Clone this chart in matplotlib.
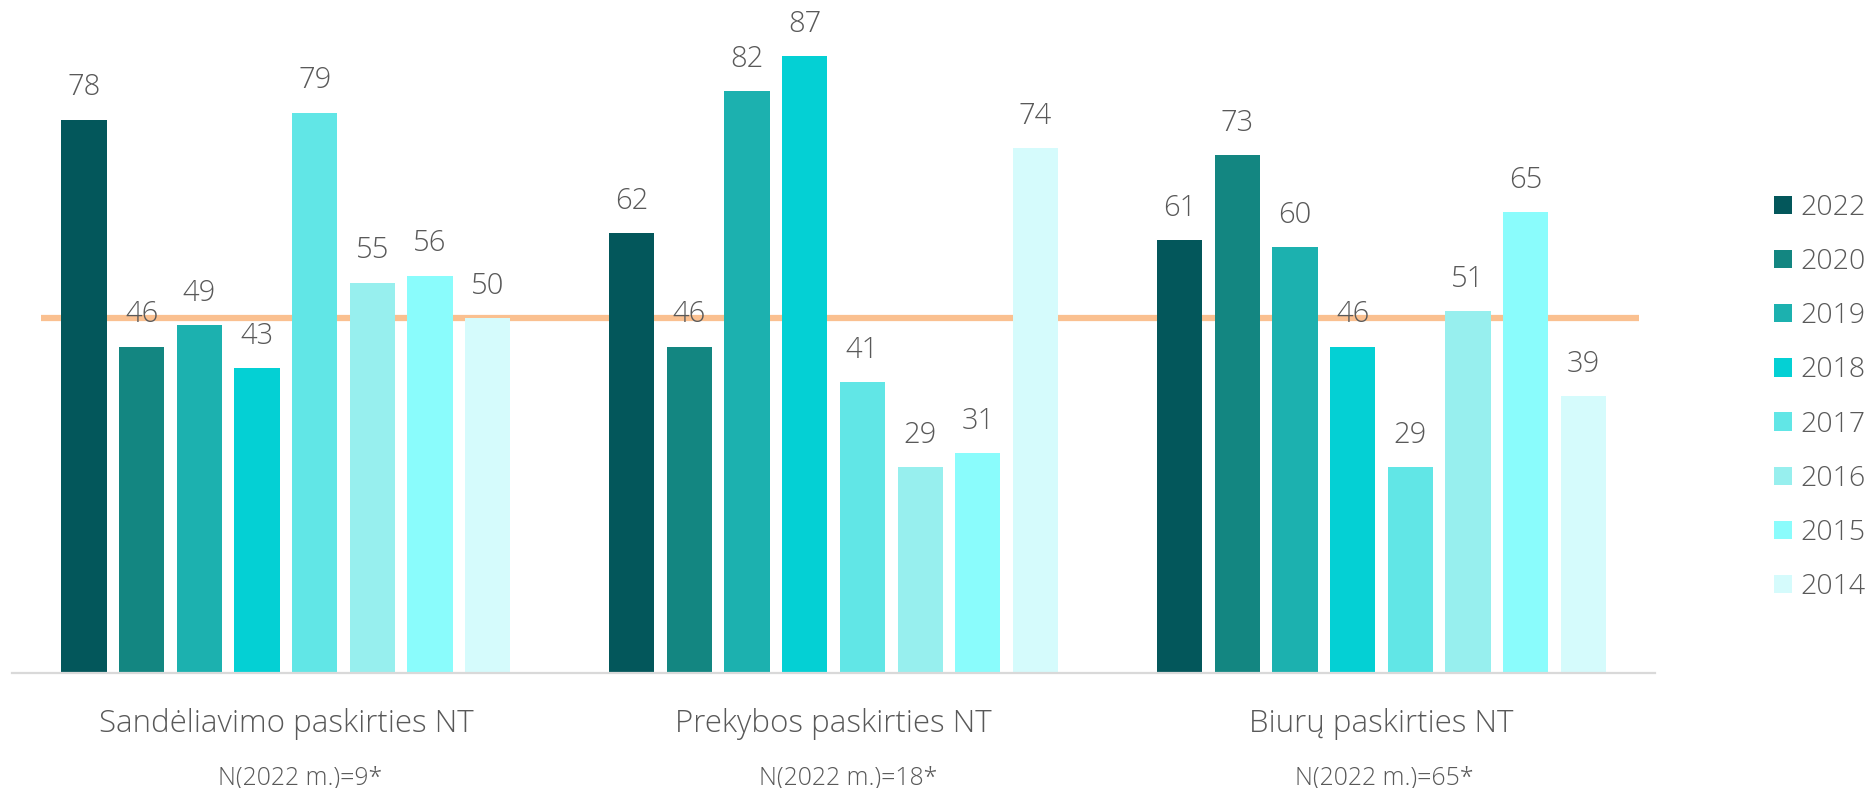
import matplotlib
matplotlib.use("Agg")
from matplotlib import pyplot as plt
from matplotlib.patches import Patch
import numpy as np

categories = ["Sandėliavimo paskirties NT", "Prekybos paskirties NT", "Biurų paskirties NT"]
sample_notes = ["N(2022 m.)=9*", "N(2022 m.)=18*", "N(2022 m.)=65*"]
years = ["2022", "2020", "2019", "2018", "2017", "2016", "2015", "2014"]

# one list per year, values in category order
v2022 = [78, 62, 61]
v2020 = [46, 46, 73]
v2019 = [49, 82, 60]
v2018 = [43, 87, 46]
v2017 = [79, 41, 29]
v2016 = [55, 29, 51]
v2015 = [56, 31, 65]
v2014 = [50, 74, 39]
series = [v2022, v2020, v2019, v2018, v2017, v2016, v2015, v2014]

reference_level = 50

colors = ["#03575B", "#138681", "#1CB1AF", "#04D0D4",
          "#61E6E6", "#97EFEE", "#8AFCFC", "#D5FBFC"]
text_gray = "#595959"

plt.rcParams["font.family"] = ["Open Sans", "DejaVu Sans"]
plt.rcParams["font.weight"] = "light"

fig = plt.figure(figsize=(18.75, 7.88), dpi=100)
ax = fig.add_axes([12 / 1875, 1 - 672.7 / 788, 1643.3 / 1875, 672.7 / 788])

x = np.arange(len(categories))
pitch = 0.1053
width = 0.0827
offsets = (np.arange(len(years)) - (len(years) - 1) / 2) * pitch

# reference line sits behind the bars
ax.plot([-0.447, 2.47], [reference_level, reference_level],
        color="#FAC090", linewidth=4.5, solid_capstyle="butt", zorder=1)

for vals, off, color, year in zip(series, offsets, colors, years):
    bars = ax.bar(x + off, vals, width=width, color=color, zorder=2, label=year)
    for rect, v in zip(bars, vals):
        ax.annotate(str(v), (rect.get_x() + rect.get_width() / 2, v),
                    xytext=(0, 17.5), textcoords="offset points",
                    ha="center", va="baseline", fontsize=21,
                    color=text_gray, zorder=3)

ax.set_xlim(-0.5, 2.5)
ax.set_ylim(0, 672.7 / 7.09)
for side in ["top", "right", "left"]:
    ax.spines[side].set_visible(False)
ax.spines["bottom"].set_color("#D9D9D9")
ax.spines["bottom"].set_linewidth(1.6)
ax.set_yticks([])
ax.set_xticks([])

for xi, name in zip(x, categories):
    ax.annotate(name, (xi, 0), xytext=(0, -43), textcoords="offset points",
                ha="center", va="baseline", fontsize=22.5, color=text_gray)
note_x = [0.026, 1.026, 2.005]
for xi, note in zip(note_x, sample_notes):
    ax.annotate(note, (xi, 0), xytext=(0, -80.5), textcoords="offset points",
                ha="center", va="baseline", fontsize=17.8, color=text_gray)

handles = [Patch(facecolor=c, label=y) for c, y in zip(colors, years)]
fig.legend(handles=handles, loc="center left",
           bbox_to_anchor=(1774 / 1875, 1 - 397.5 / 788),
           frameon=False, fontsize=20.5, labelcolor=text_gray,
           handlelength=0.62, handleheight=0.62, handletextpad=0.3,
           labelspacing=0.92, borderpad=0, borderaxespad=0)

plt.savefig("out.png", dpi=100)
